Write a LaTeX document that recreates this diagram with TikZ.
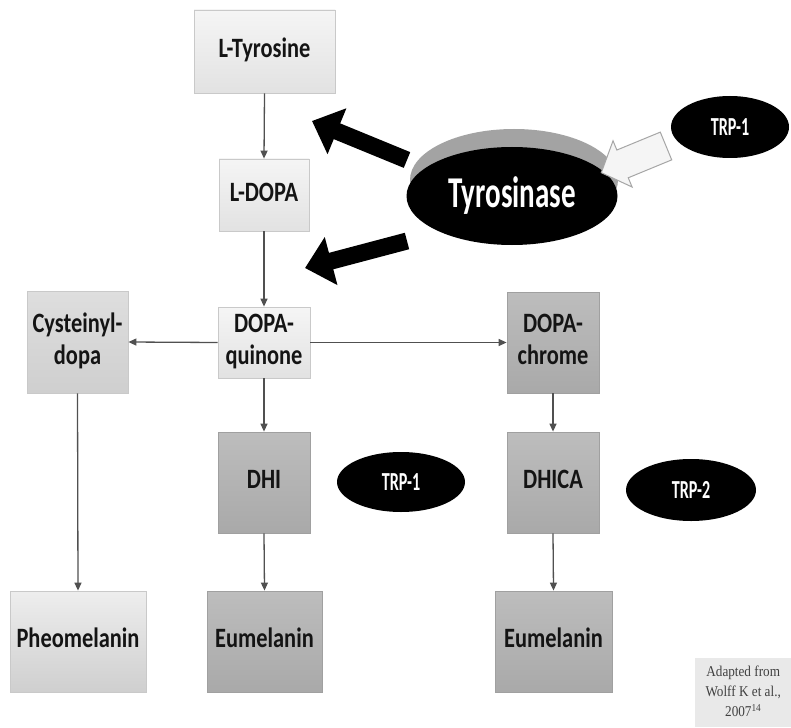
\documentclass[tikz,border=0pt]{standalone}
\usepackage{fontspec}
\setmainfont{Carlito}
\newfontfamily\citefont{Liberation Serif}
\usepackage{graphicx}
\usetikzlibrary{arrows.meta,shapes.geometric}
\definecolor{txtc}{HTML}{141414}
\definecolor{lightT}{HTML}{F5F5F5}
\definecolor{lightB}{HTML}{E2E2E2}
\definecolor{lightE}{HTML}{C9C9C9}
\definecolor{midT}{HTML}{DEDEDE}
\definecolor{midB}{HTML}{CFCFCF}
\definecolor{darkT}{HTML}{BDBDBD}
\definecolor{darkB}{HTML}{A9A9A9}
\definecolor{darkE}{HTML}{A0A0A0}
\definecolor{linec}{HTML}{505050}
\definecolor{crescent}{HTML}{A3A3A3}
\definecolor{citebg}{HTML}{E9E9E9}
\newcommand\bxt[1]{\scalebox{0.8}[1]{\begin{tabular}{@{}c@{}}#1\end{tabular}}}
\newcommand\ent[2]{\scalebox{#1}[1]{#2}}
\begin{document}
\begin{tikzpicture}[x=1pt,y=-1pt,
  basebox/.style={rectangle, inner sep=0pt, line width=0.8pt,
    font=\fontsize{28}{32}\selectfont\bfseries, text=txtc},
  lightbox/.style={basebox, draw=lightE, top color=lightT, bottom color=lightB},
  midbox/.style={basebox, draw=lightE, top color=midT, bottom color=midB},
  darkbox/.style={basebox, draw=darkE, top color=darkT, bottom color=darkB},
  enzyme/.style={ellipse, fill=black, inner sep=0pt, text=white},
  conn/.style={draw=linec, line width=1.3pt, -{Triangle[length=8pt,width=7pt]}},
  fatarrow/.style={draw=black, line width=17pt, -{Triangle[length=27pt,width=48pt]}}
]
\useasboundingbox[fill=white] (0,0) rectangle (791,727);

% boxes
\node[lightbox, minimum width=141pt, minimum height=83pt] (tyr) at (264.5,51.5) {\bxt{L-Tyrosine}};
\node[lightbox, minimum width=90pt, minimum height=72pt] (ldopa) at (264,195) {\bxt{L-DOPA}};
\node[lightbox, minimum width=92pt, minimum height=71pt] (dq) at (264,342.5) {\bxt{DOPA-\\quinone}};
\node[midbox, minimum width=101pt, minimum height=102pt] (cys) at (77.5,342) {\bxt{Cysteinyl-\\dopa}};
\node[darkbox, minimum width=92pt, minimum height=101pt] (dc) at (553,342.5) {\bxt{DOPA-\\chrome}};
\node[darkbox, minimum width=92pt, minimum height=101pt] (dhi) at (264,482.5) {\bxt{DHI}};
\node[darkbox, minimum width=92pt, minimum height=101pt] (dhica) at (553,482.5) {\bxt{DHICA}};
\node[midbox, top color=lightB!60!white, bottom color=midB, minimum width=136pt, minimum height=101pt] (pheo) at (78,641.5) {\bxt{Pheomelanin}};
\node[darkbox, minimum width=115pt, minimum height=101pt] (eu1) at (264.5,641.5) {\bxt{Eumelanin}};
\node[darkbox, minimum width=117pt, minimum height=101pt] (eu2) at (553.5,641.5) {\bxt{Eumelanin}};

% connectors
\draw[conn] (tyr.south) -- (ldopa.north);
\draw[conn] (ldopa.south) -- (dq.north);
\draw[conn] (dq.west) -- (cys.east);
\draw[conn] (dq.east) -- (dc.west);
\draw[conn] (dq.south) -- (dhi.north);
\draw[conn] (dc.south) -- (dhica.north);
\draw[conn] (dhi.south) -- (eu1.north);
\draw[conn] (dhica.south) -- (eu2.north);
\draw[conn] (cys.south) -- (pheo.north);

% tyrosinase
\fill[crescent] (514,180) ellipse [x radius=104, y radius=51];
\node[enzyme, minimum width=211pt, minimum height=98pt,
  font=\fontsize{44}{48}\selectfont\bfseries] (tyrase) at (512,196) {\raisebox{-3pt}{\ent{0.66}{Tyrosinase}}};

% other enzymes
\node[enzyme, minimum width=118pt, minimum height=62pt,
  font=\fontsize{26}{28}\selectfont\bfseries] (trpa) at (730,127) {\ent{0.62}{TRP-1}};
\node[enzyme, minimum width=128pt, minimum height=60pt,
  font=\fontsize{26}{28}\selectfont\bfseries] (trpb) at (401,482) {\ent{0.62}{TRP-1}};
\node[enzyme, minimum width=130pt, minimum height=62pt,
  font=\fontsize{26}{28}\selectfont\bfseries] (trpc) at (691,490) {\ent{0.62}{TRP-2}};

% fat black arrows from tyrosinase
\coordinate (t1) at (407,160);
\coordinate (h1) at (312,121);
\coordinate (t2) at (407,241);
\coordinate (h2) at (305,268);
\draw[fatarrow] (t1) -- (h1);
\draw[fatarrow] (t2) -- (h2);

% white block arrow from TRP-1 to tyrosinase
\coordinate (wt) at (666,146);
\begin{scope}[shift={(wt)}, rotate=202.4]
  \draw[draw=gray!70, fill=gray!8, line width=1pt, line join=miter]
    (0,-15) -- (47,-15) -- (47,-25) -- (70,0) -- (47,25) -- (47,15) -- (0,15) -- cycle;
\end{scope}

% citation
\node[fill=citebg, minimum width=96pt, minimum height=69pt, inner sep=0pt,
  anchor=north west, text=black!75,
  font=\citefont\fontsize{15}{20}\selectfont] (cite) at (695,658)
  {\scalebox{0.88}[1]{\begin{tabular}{@{}c@{}}Adapted from\\Wolff K et al.,\\2007\textsuperscript{14}\end{tabular}}};
\end{tikzpicture}
\end{document}
